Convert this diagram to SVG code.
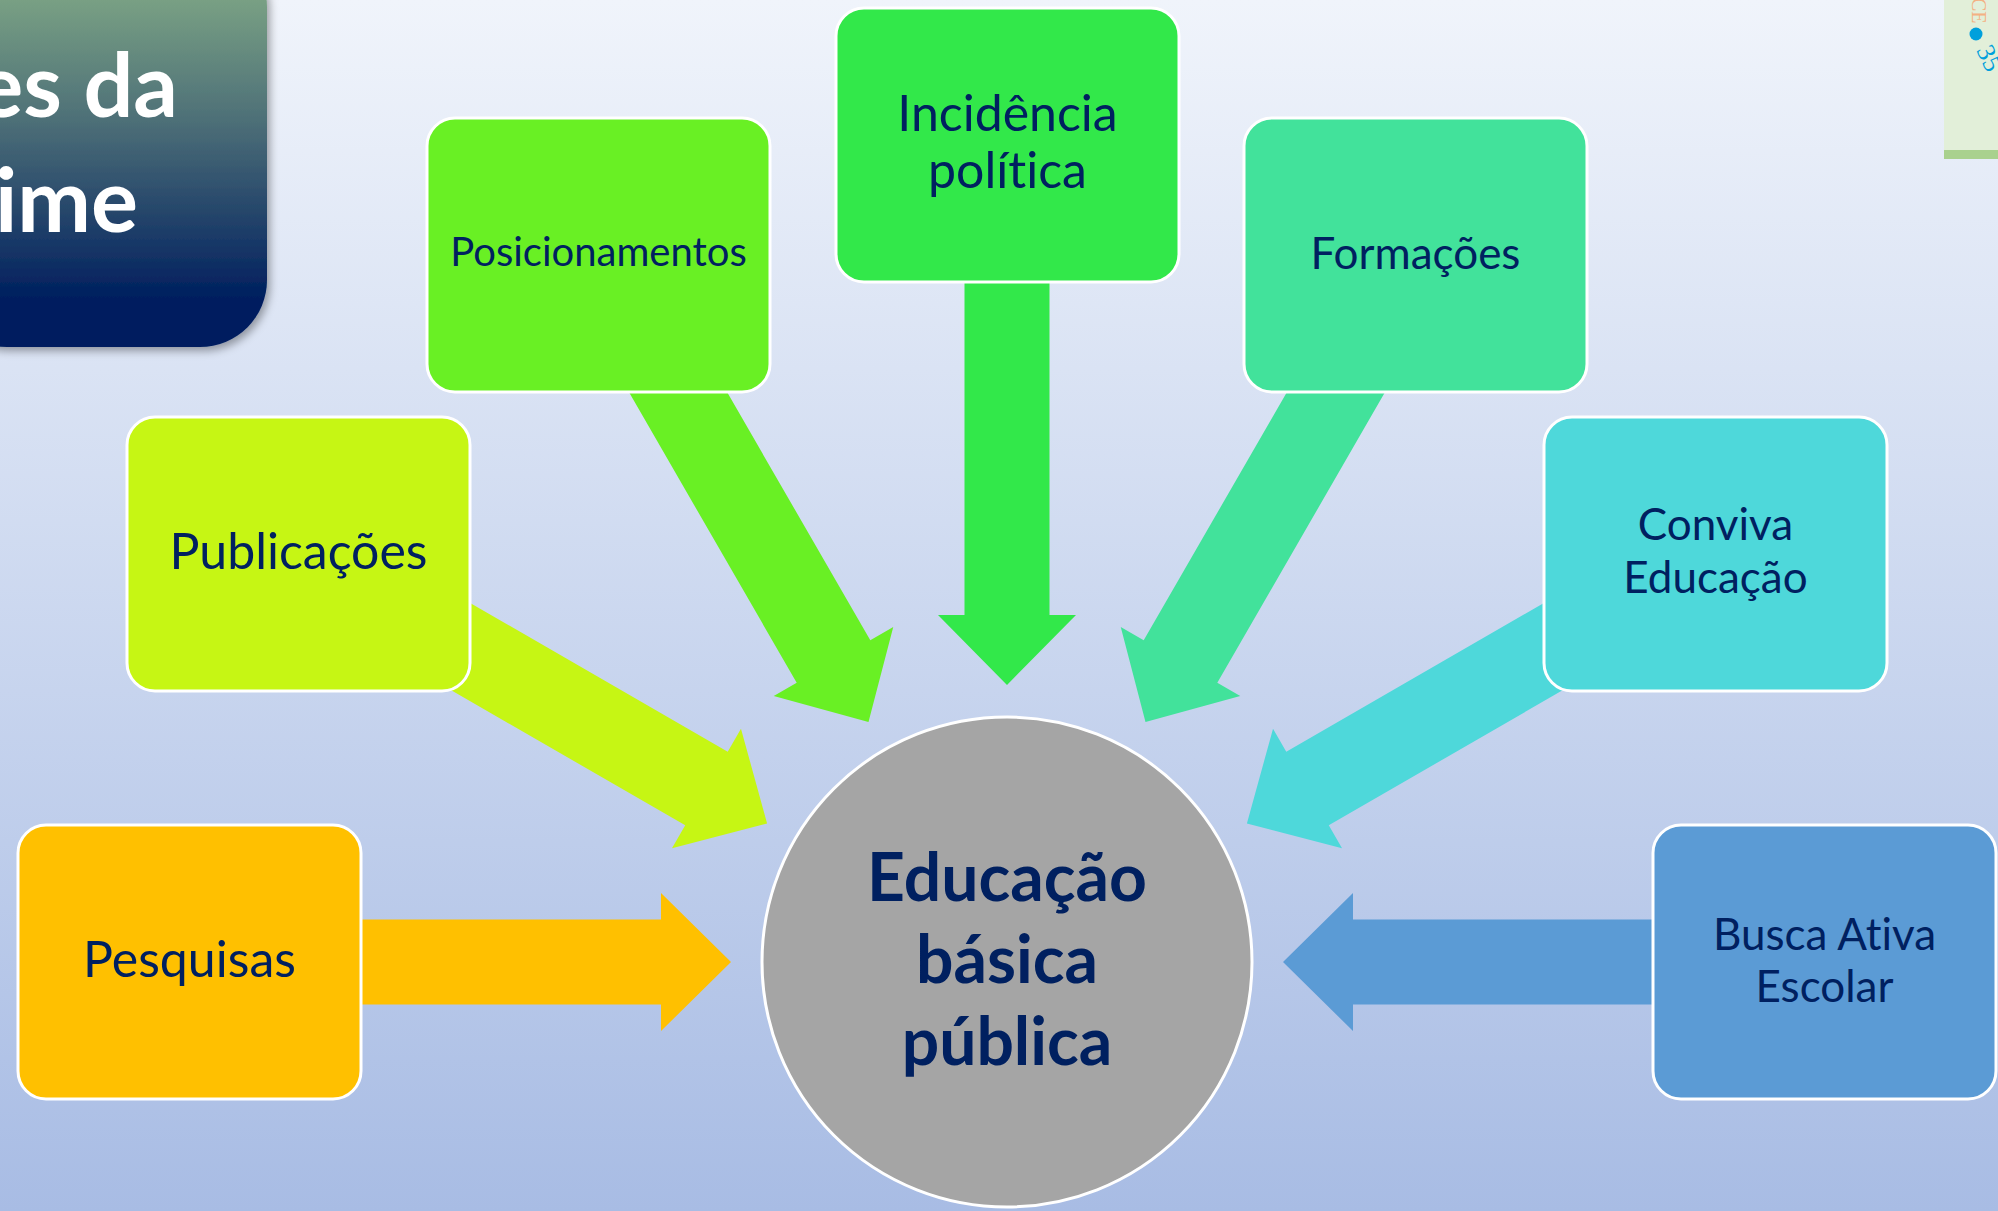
<svg xmlns="http://www.w3.org/2000/svg" width="1998" height="1211" viewBox="0 0 1998 1211">
<defs>
<linearGradient id="bg" x1="0" y1="0" x2="0" y2="1">
<stop offset="0" stop-color="#f0f4fb"/>
<stop offset="1" stop-color="#a8bce4"/>
</linearGradient>
<linearGradient id="tg" x1="0" y1="0" x2="0" y2="1">
<stop offset="0" stop-color="#8eb88a"/>
<stop offset="0.45" stop-color="#4c6e77"/>
<stop offset="0.88" stop-color="#001f5f"/>
<stop offset="1" stop-color="#001f5f"/>
</linearGradient>
<filter id="sh" x="-20%" y="-20%" width="140%" height="140%">
<feDropShadow dx="3" dy="4" stdDeviation="4" flood-color="#000" flood-opacity="0.35"/>
</filter>
<path id="arr" d="M-420,-42.5 L-70,-42.5 L-70,-69 L0,0 L-70,69 L-70,42.5 L-420,42.5 Z"/>
<style>
text{font-variant-ligatures:none;font-feature-settings:"liga" 0,"clig" 0}
.box{stroke:#fff;stroke-width:3}
.lbl{font-family:Lato,"Open Sans","Liberation Sans",sans-serif;fill:#002060;text-anchor:middle}
.ctr{font-family:Lato,"Open Sans","Liberation Sans",sans-serif;font-weight:bold;fill:#002060;text-anchor:middle;font-size:66px}
.ttl{font-family:Lato,"Open Sans","Liberation Sans",sans-serif;font-weight:bold;fill:#fff;text-anchor:end;font-size:88px}
</style>
</defs>
<rect x="0" y="0" width="1998" height="1211" fill="url(#bg)"/>

<g id="title">
<rect x="-60" y="-60" width="327" height="407" rx="67" ry="67" fill="url(#tg)" filter="url(#sh)"/>
<text class="ttl" x="178" y="117">es da</text>
<text class="ttl" x="138" y="232">ime</text>
</g>

<g id="corner">
<rect x="1944" y="0" width="54" height="150" fill="#e2efd9"/>
<rect x="1944" y="150" width="54" height="9" fill="#a9d18e"/>
<text x="1972" y="-2" transform="rotate(90 1972 -2)" font-family="'Liberation Serif',serif" font-size="20" fill="#f4b183">CE</text>
<circle cx="1976" cy="34" r="6.5" fill="#00a0dc"/>
<text x="1976" y="50" transform="rotate(65 1976 50)" font-family="'Liberation Serif',serif" font-size="26" fill="#00a0dc">35</text>
</g>

<g id="connectors">
<use href="#arr" transform="translate(731 962)" fill="#ffc000"/>
<use href="#arr" transform="translate(767.1 823.5) rotate(30)" fill="#c6f614"/>
<use href="#arr" transform="translate(868.5 722.1) rotate(60)" fill="#69f024"/>
<use href="#arr" transform="translate(1007 685) rotate(90)" fill="#32e84a"/>
<use href="#arr" transform="translate(1145.5 722.1) rotate(120)" fill="#42e29b"/>
<use href="#arr" transform="translate(1246.9 823.5) rotate(150)" fill="#4ed8da"/>
<use href="#arr" transform="translate(1283 962) rotate(180)" fill="#5b9bd5"/>
</g>

<g id="pesquisas">
<rect class="box" x="18" y="825" width="343" height="274" rx="28" fill="#ffc000"/>
<text class="lbl" x="189.5" y="977" font-size="50">Pesquisas</text>
</g>
<g id="publicacoes">
<rect class="box" x="127" y="417" width="343" height="274" rx="28" fill="#c6f614"/>
<text class="lbl" x="298.5" y="569" font-size="50">Publicações</text>
</g>
<g id="posicionamentos">
<rect class="box" x="427" y="118" width="343" height="274" rx="28" fill="#69f024"/>
<text class="lbl" x="598.5" y="266" font-size="40">Posicionamentos</text>
</g>
<g id="incidencia">
<rect class="box" x="836" y="8" width="343" height="274" rx="28" fill="#32e84a"/>
<text class="lbl" x="1007.5" y="131" font-size="50">Incidência</text>
<text class="lbl" x="1007.5" y="188" font-size="50">política</text>
</g>
<g id="formacoes">
<rect class="box" x="1244" y="118" width="343" height="274" rx="28" fill="#42e29b"/>
<text class="lbl" x="1415.5" y="269" font-size="44">Formações</text>
</g>
<g id="conviva">
<rect class="box" x="1544" y="417" width="343" height="274" rx="28" fill="#4ed8da"/>
<text class="lbl" x="1715.5" y="540" font-size="44">Conviva</text>
<text class="lbl" x="1715.5" y="593" font-size="44">Educação</text>
</g>
<g id="busca">
<rect class="box" x="1653" y="825" width="343" height="274" rx="28" fill="#5b9bd5"/>
<text class="lbl" x="1824.5" y="950" font-size="44">Busca Ativa</text>
<text class="lbl" x="1824.5" y="1002" font-size="44">Escolar</text>
</g>

<g id="centro">
<circle cx="1007" cy="962" r="245" fill="#a5a5a5" stroke="#fff" stroke-width="3"/>
<text class="ctr" x="1007" y="901">Educação</text>
<text class="ctr" x="1007" y="983">básica</text>
<text class="ctr" x="1007" y="1065">pública</text>
</g>
</svg>
